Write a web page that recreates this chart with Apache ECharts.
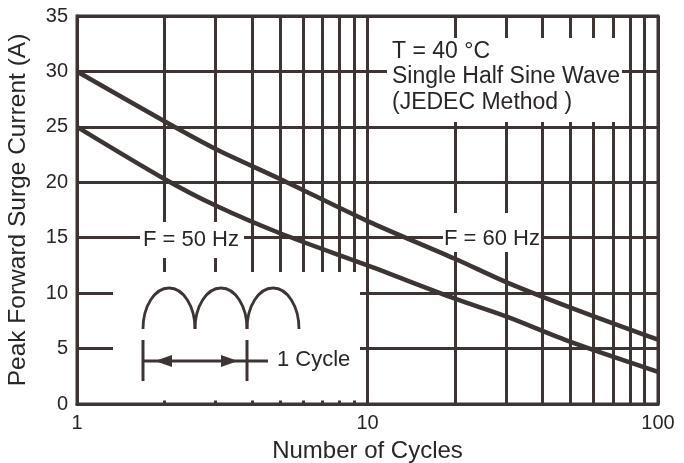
<!DOCTYPE html>
<html><head><meta charset="utf-8">
<script src="https://cdn.jsdelivr.net/npm/echarts@6/dist/echarts.min.js"></script>
<style>html,body{margin:0;padding:0;background:#fff}#c{width:684px;height:463px}</style>
</head><body><div id="c"></div>
<script>
// ---- data ----
const cycles    = [1, 2, 3, 5, 10, 20, 30, 50, 100];
const surge60Hz = [30, 25.5, 23.0, 20.3, 16.5, 13.1, 11.0, 8.7, 5.8];
const surge50Hz = [25, 20.3, 17.9, 15.4, 12.5, 9.5, 7.9, 5.6, 2.9];
const yTickValues = [0, 5, 10, 15, 20, 25, 30, 35];
const xTickValues = [1, 10, 100];
const minorGridX = [2, 3, 4, 5, 6, 7, 8, 9, 20, 30, 40, 50, 60, 70, 80, 90];

const INK = '#3d3533';
const TXT = '#2a2626';
const FONT = '"Liberation Sans", Arial, sans-serif';

const chart = echarts.init(document.getElementById('c'), null, {renderer: 'canvas'});

function pts(xs, ys) { return xs.map((x, i) => [x, ys[i]]); }

const option = {
  animation: false,
  backgroundColor: '#fff',
  grid: {left: 77, right: 26, top: 16, bottom: 59, show: true, borderColor: INK, borderWidth: 3, z: 1,
         containLabel: false, outerBoundsMode: 'none'},
  xAxis: {
    type: 'log', logBase: 10,
    min: xTickValues[0], max: xTickValues[xTickValues.length - 1],
    name: 'Number of Cycles', nameLocation: 'middle', nameGap: 35,
    nameTextStyle: {fontSize: 24, color: TXT, fontFamily: FONT},
    axisLine: {show: true, lineStyle: {color: INK, width: 3}},
    axisTick: {show: false},
    axisLabel: {fontSize: 20, color: TXT, fontFamily: FONT, margin: 9},
    splitLine: {show: true, lineStyle: {color: INK, width: 3}},
    minorTick: {show: false}
  },
  yAxis: {
    type: 'value', min: yTickValues[0], max: yTickValues[yTickValues.length - 1], interval: 5,
    name: 'Peak Forward Surge Current (A)', nameLocation: 'middle', nameGap: 46,
    nameTextStyle: {fontSize: 24.5, color: TXT, fontFamily: FONT},
    axisLine: {show: true, lineStyle: {color: INK, width: 3}},
    axisTick: {show: false},
    axisLabel: {fontSize: 20, color: TXT, fontFamily: FONT, margin: 9},
    splitLine: {show: true, lineStyle: {color: INK, width: 3}}
  },
  series: [
    {
      type: 'line', data: [], silent: true, z: 1,
      markLine: {
        silent: true, symbol: 'none', z: 3, animation: false,
        label: {show: false},
        lineStyle: {color: INK, width: 3, type: 'solid'},
        emphasis: {disabled: true},
        data: minorGridX.map(v => ({xAxis: v}))
      }
    },
    {
      name: 'F = 60 Hz', type: 'line', data: pts(cycles, surge60Hz), smooth: 0.3,
      symbol: 'none', z: 20, lineStyle: {color: INK, width: 4.5}
    },
    {
      name: 'F = 50 Hz', type: 'line', data: pts(cycles, surge50Hz), smooth: 0.3,
      symbol: 'none', z: 20, lineStyle: {color: INK, width: 4.5}
    }
  ]
};
chart.setOption(option);

// ---- annotations (white masks, texts, waveform inset) ----
const T = (text, x, y, size) => ({
  type: 'text', z: 30, silent: true,
  style: {text, x, y, fill: TXT, font: (size || 23) + 'px ' + FONT, textAlign: 'left', textVerticalAlign: 'middle'}
});
const W = (x, y, w, h) => ({type: 'rect', z: 10, silent: true, shape: {x, y, width: w, height: h}, style: {fill: '#fff'}});
const L = (x1, y1, x2, y2) => ({type: 'line', z: 30, silent: true, shape: {x1, y1, x2, y2}, style: {stroke: INK, lineWidth: 3}});

// three half-wave humps of the inset sketch (each drawn as two quarter-ellipse Bezier curves)
const humpStarts = [143, 195, 247];
const humpW = 52, humpBase = 329, humpH = 41, K = 0.5523;
const humps = [];
humpStarts.forEach(x0 => {
  const rx = humpW / 2, top = humpBase - humpH;
  humps.push({type: 'bezierCurve', z: 30, silent: true,
    shape: {x1: x0, y1: humpBase, x2: x0 + rx, y2: top, cpx1: x0, cpy1: humpBase - K * humpH, cpx2: x0 + rx - K * rx, cpy2: top},
    style: {stroke: INK, lineWidth: 2.8, fill: null}});
  humps.push({type: 'bezierCurve', z: 30, silent: true,
    shape: {x1: x0 + rx, y1: top, x2: x0 + humpW, y2: humpBase, cpx1: x0 + rx + K * rx, cpy1: top, cpx2: x0 + humpW, cpy2: humpBase - K * humpH},
    style: {stroke: INK, lineWidth: 2.8, fill: null}});
});

chart.setOption({
  graphic: [
    W(113, 272, 247, 128.5),
    W(140, 222, 104, 36),
    W(443, 213, 98, 39),
    W(387, 38, 235, 84),
    T('T = 40 °C', 392, 52),
    T('Single Half Sine Wave', 392, 77),
    T('(JEDEC Method )', 392, 103),
    T('F = 50 Hz', 143, 240, 22),
    T('F = 60 Hz', 444, 239, 22),
    T('1 Cycle', 277, 360, 22),
    ...humps,
    L(143, 340, 143, 381),
    L(247, 340, 247, 381),
    L(143, 361, 268, 361),
    {type: 'polygon', z: 31, silent: true, shape: {points: [[155, 361], [172, 355], [172, 367]]}, style: {fill: INK}},
    {type: 'polygon', z: 31, silent: true, shape: {points: [[238, 361], [221, 355], [221, 367]]}, style: {fill: INK}}
  ]
});
</script>
</body></html>
